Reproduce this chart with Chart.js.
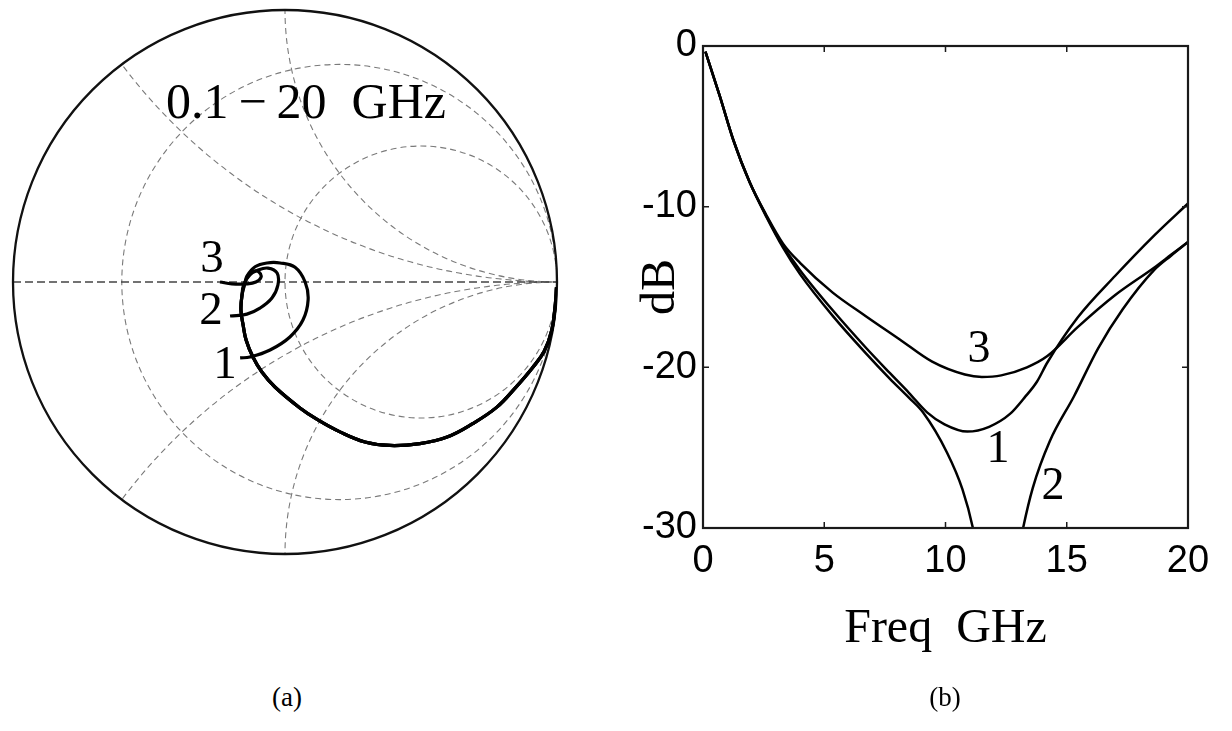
<!DOCTYPE html>
<html>
<head>
<meta charset="utf-8">
<script src="https://cdn.jsdelivr.net/npm/chart.js@4.4.1/dist/chart.umd.min.js"></script>
<style>
   html, body { margin: 0; padding: 0; background: #fff; }
   body { width: 1232px; height: 731px; position: relative; overflow: hidden; }
   canvas { position: absolute; top: 0; display: block; }
   #smithChart { left: 0; }
   #lossChart { left: 600px; }
   .caption { position: absolute; top: 682px; width: 100px; text-align: center;
              font: 27px "Liberation Serif", "Times New Roman", serif; color: #000; }
</style>
</head>
<body>
<canvas id="smithChart" width="570" height="565"></canvas>
<canvas id="lossChart" width="632" height="731"></canvas>
<div class="caption" style="left:237px">(a)</div>
<div class="caption" style="left:895px">(b)</div>
<script>
// S11 traces on the Smith chart, 0.1-20 GHz, as [re, im] of the reflection coefficient
var sweepPath = [
   [0.998, -0.02], [0.994, -0.08], [0.98, -0.18], [0.953, -0.255], [0.91, -0.315],
   [0.846, -0.39], [0.779, -0.46], [0.688, -0.522], [0.596, -0.57], [0.496, -0.594],
   [0.386, -0.601], [0.294, -0.588], [0.202, -0.551], [0.121, -0.507], [0.055, -0.463],
   [-0.037, -0.386], [-0.085, -0.331], [-0.118, -0.276], [-0.143, -0.213], [-0.154, -0.158],
   [-0.162, -0.103], [-0.158, -0.048]
];
var loopTail1 = [
   [-0.147, -0.004], [-0.140, 0.022], [-0.110, 0.056], [-0.066, 0.070], [-0.018, 0.070],
   [0.037, 0.054], [0.074, 0.0], [0.085, -0.066], [0.066, -0.140], [0.018, -0.202],
   [-0.055, -0.25], [-0.129, -0.276], [-0.165, -0.279]
];
var loopTail2 = [
   [-0.152, -0.01], [-0.129, 0.026], [-0.099, 0.044], [-0.0625, 0.051], [-0.029, 0.033],
   [-0.026, -0.011], [-0.048, -0.059], [-0.092, -0.096], [-0.140, -0.118], [-0.202, -0.125]
];
var loopTail3 = [
   [-0.150, -0.01], [-0.136, 0.022], [-0.114, 0.040], [-0.096, 0.037], [-0.088, 0.018],
   [-0.107, 0.0], [-0.140, -0.007], [-0.195, -0.007], [-0.239, 0.0]
];
var smithLabelText = ['1', '2', '3'];
var smithLabelAt = [[-0.221, -0.309], [-0.272, -0.110], [-0.268, 0.081]];
var bandText = '0.1\u2009\u2212\u200920  GHz';
var bandTextAt = [0.077, 0.65];

// grid of the chart: constant resistance circles and constant reactance arcs
var resistanceCircles = [0.25, 1];
var reactanceArcs = [0.5, 1, -0.5, -1];

// |S11| in dB against frequency
var freq1 = [0.1, 0.7, 1.25, 1.93, 2.62, 3.3, 4.0, 5.35, 6.7, 7.7, 8.5, 9.24, 9.96, 10.9, 11.8, 12.66, 13.25, 13.77, 14.2, 15.45, 17.0, 18.6, 20];
var s11dB1 = [-0.35, -3.15, -5.85, -8.5, -10.6, -12.45, -13.95, -16.45, -18.75, -20.35, -21.6, -22.8, -23.55, -24.0, -23.7, -22.9, -21.9, -20.9, -19.7, -16.9, -14.3, -11.8, -9.8];

var freq2 = [0.1, 0.7, 1.25, 1.93, 2.62, 3.3, 4.0, 5.35, 6.7, 7.7, 8.5, 9.07, 10.06, 10.7, 11.13, 11.6, 12.15, 12.7, 13.2, 13.6, 14.3, 15.3, 16.3, 17.3, 18.6, 19.3, 20];
var s11dB2 = [-0.35, -3.15, -5.85, -8.5, -10.65, -12.55, -14.2, -16.8, -19.1, -20.7, -21.9, -22.8, -25.3, -27.6, -30, -34, -44, -34, -30, -27.5, -24.6, -21.8, -18.8, -16.4, -13.95, -13.05, -12.2];

var freq3 = [0.1, 0.7, 1.25, 1.93, 2.62, 3.3, 4.0, 5.35, 6.7, 8.1, 9.45, 10.8, 11.5, 12.3, 13.36, 14.2, 15.45, 17.0, 18.6, 19.3, 20];
var s11dB3 = [-0.35, -3.15, -5.85, -8.5, -10.55, -12.3, -13.5, -15.35, -16.8, -18.25, -19.65, -20.45, -20.6, -20.5, -20.0, -19.3, -17.5, -15.5, -13.8, -13.0, -12.2];

var curveLabelText = ['1', '2', '3'];
var curveLabelAt = [[12.16, -25.16], [14.43, -27.45], [11.38, -18.9]];

var freqTicks = [0, 5, 10, 15, 20];
var dbTicks = [0, -10, -20, -30];

var SERIF = '"Liberation Serif", "Times New Roman", serif';
var SANS = '"Liberation Sans", Arial, sans-serif';

var toPoints = function toPoints(pairs) {
   return pairs.map(p => ({x: p[0], y: p[1]}));
};

var zip = function zip(xs, ys) {
   return xs.map((x, i) => ({x: x, y: ys[i]}));
};

var trace = function trace(points) {
   return {
      data: points,
      showLine: true,
      borderColor: '#000',
      borderWidth: 3.2,
      pointRadius: 0,
      tension: 0.4,
      fill: false
   };
};

var smithGrid = {
   id: 'smithGrid',
   beforeDatasetsDraw: function(chart) {
      var ctx = chart.ctx;
      var xs = chart.scales.x;
      var ys = chart.scales.y;
      var px = v => xs.getPixelForValue(v);
      var py = v => ys.getPixelForValue(v);
      var unit = px(1) - px(0);
      var cx = px(0);
      var cy = py(0);

      ctx.save();
      ctx.beginPath();
      ctx.arc(cx, cy, unit, 0, 2 * Math.PI);
      ctx.clip();
      ctx.strokeStyle = '#7a7a7a';
      ctx.lineWidth = 1.1;
      ctx.setLineDash([6, 4]);
      resistanceCircles.forEach(r => {
         ctx.beginPath();
         ctx.arc(px(r / (r + 1)), cy, unit / (r + 1), 0, 2 * Math.PI);
         ctx.stroke();
      });
      reactanceArcs.forEach(x => {
         ctx.beginPath();
         ctx.arc(px(1), py(1 / x), unit / Math.abs(x), 0, 2 * Math.PI);
         ctx.stroke();
      });
      ctx.strokeStyle = '#444';
      ctx.lineWidth = 1.6;
      ctx.setLineDash([8, 4]);
      ctx.beginPath();
      ctx.moveTo(px(-1), cy);
      ctx.lineTo(px(1), cy);
      ctx.stroke();
      ctx.restore();

      ctx.save();
      ctx.strokeStyle = '#111';
      ctx.lineWidth = 2.3;
      ctx.beginPath();
      ctx.arc(cx, cy, unit, 0, 2 * Math.PI);
      ctx.stroke();
      ctx.restore();
   },
   afterDatasetsDraw: function(chart) {
      var ctx = chart.ctx;
      var xs = chart.scales.x;
      var ys = chart.scales.y;
      ctx.save();
      ctx.fillStyle = '#000';
      ctx.textAlign = 'center';
      ctx.textBaseline = 'middle';
      ctx.font = '47px ' + SERIF;
      smithLabelText.forEach((t, i) => {
         ctx.fillText(t, xs.getPixelForValue(smithLabelAt[i][0]), ys.getPixelForValue(smithLabelAt[i][1]));
      });
      ctx.font = '50px ' + SERIF;
      ctx.fillText(bandText, xs.getPixelForValue(bandTextAt[0]), ys.getPixelForValue(bandTextAt[1]));
      ctx.restore();
   }
};

var frameTicks = {
   id: 'frameTicks',
   afterDatasetsDraw: function(chart) {
      var ctx = chart.ctx;
      var a = chart.chartArea;
      var xs = chart.scales.x;
      var ys = chart.scales.y;
      ctx.save();
      ctx.strokeStyle = '#1a1a1a';
      ctx.lineWidth = 1.5;
      ctx.beginPath();
      freqTicks.forEach(v => {
         var p = xs.getPixelForValue(v);
         ctx.moveTo(p, a.bottom); ctx.lineTo(p, a.bottom - 6);
         ctx.moveTo(p, a.top);    ctx.lineTo(p, a.top + 6);
      });
      dbTicks.forEach(v => {
         var p = ys.getPixelForValue(v);
         ctx.moveTo(a.left, p);  ctx.lineTo(a.left + 6, p);
         ctx.moveTo(a.right, p); ctx.lineTo(a.right - 6, p);
      });
      ctx.stroke();
      ctx.lineWidth = 2.2;
      ctx.strokeRect(a.left, a.top, a.right - a.left, a.bottom - a.top);

      ctx.fillStyle = '#000';
      ctx.textAlign = 'center';
      ctx.textBaseline = 'middle';
      ctx.font = '46px ' + SERIF;
      curveLabelText.forEach((t, i) => {
         ctx.fillText(t, xs.getPixelForValue(curveLabelAt[i][0]), ys.getPixelForValue(curveLabelAt[i][1]));
      });
      ctx.restore();
   }
};

new Chart(document.getElementById('smithChart'), {
   type: 'scatter',
   data: {
      datasets: [
         trace(toPoints(sweepPath.concat(loopTail1))),
         trace(toPoints(sweepPath.concat(loopTail2))),
         trace(toPoints(sweepPath.concat(loopTail3)))
      ]
   },
   options: {
      responsive: false,
      animation: false,
      events: [],
      layout: { padding: { left: 13, right: 13, top: 10, bottom: 11 } },
      scales: {
         x: { type: 'linear', min: -1, max: 1, display: false },
         y: { type: 'linear', min: -1, max: 1, display: false }
      },
      plugins: { legend: { display: false }, tooltip: { enabled: false } }
   },
   plugins: [smithGrid]
});

var lineSet = function lineSet(points) {
   return {
      data: points,
      borderColor: '#000',
      borderWidth: 2.5,
      pointRadius: 0,
      cubicInterpolationMode: 'monotone',
      fill: false
   };
};

new Chart(document.getElementById('lossChart'), {
   type: 'line',
   data: {
      datasets: [
         lineSet(zip(freq1, s11dB1)),
         lineSet(zip(freq2, s11dB2)),
         lineSet(zip(freq3, s11dB3))
      ]
   },
   options: {
      responsive: false,
      animation: false,
      events: [],
      layout: { padding: { left: 0, right: 44, top: 46, bottom: 0 } },
      scales: {
         x: {
            type: 'linear',
            min: 0,
            max: 20,
            afterBuildTicks: scale => { scale.ticks = freqTicks.map(v => ({value: v})); },
            afterFit: scale => { scale.height = 203; },
            grid: { display: false, drawTicks: false },
            border: { display: false },
            ticks: { color: '#000', padding: 11, maxRotation: 0, font: { family: SANS, size: 38 } },
            title: {
               display: true,
               text: 'Freq  GHz',
               color: '#000',
               padding: { top: 0, bottom: 73 },
               font: { family: SERIF, size: 48 }
            }
         },
         y: {
            type: 'linear',
            min: -30,
            max: 0,
            afterBuildTicks: scale => { scale.ticks = dbTicks.map(v => ({value: v})); },
            afterFit: scale => { scale.width = 103; },
            grid: { display: false, drawTicks: false },
            border: { display: false },
            ticks: { color: '#000', padding: 6, font: { family: SANS, size: 38 } },
            title: {
               display: true,
               text: 'dB',
               color: '#000',
               padding: { top: 33, bottom: 0 },
               font: { family: SERIF, size: 48 }
            }
         }
      },
      plugins: { legend: { display: false }, tooltip: { enabled: false } }
   },
   plugins: [frameTicks]
});
</script>
</body>
</html>
